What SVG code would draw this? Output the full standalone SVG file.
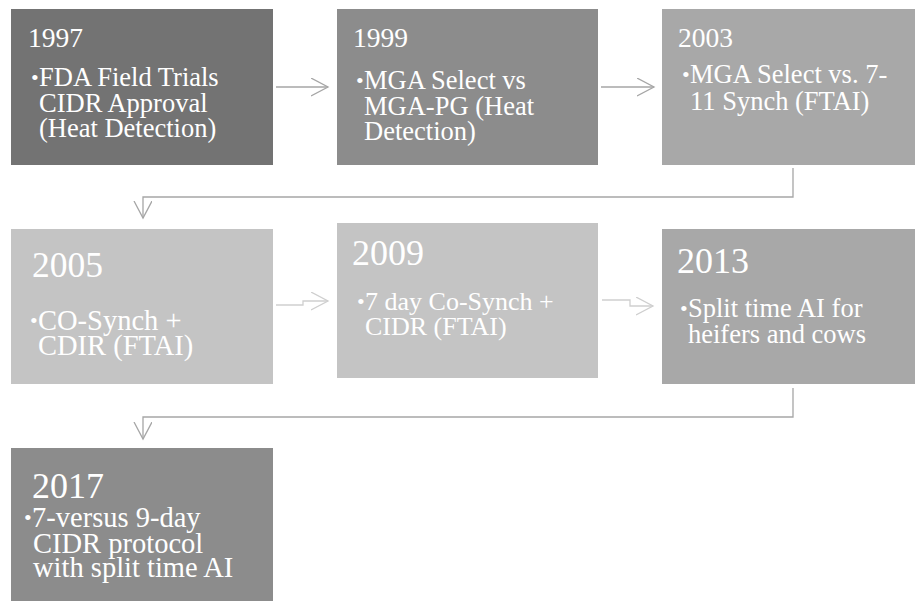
<svg xmlns="http://www.w3.org/2000/svg" width="915" height="601" viewBox="0 0 915 601">
<defs>
<style>
.t{font-family:"Liberation Serif","Times New Roman",serif;fill:#ffffff}
.b{font-family:"Liberation Serif","Times New Roman",serif;fill:#ffffff;font-size:22px}
.c{fill:none;stroke-width:1.3}
.d{stroke:#a6a6a6}
.l{stroke:#cfcfcf}
</style>
<marker id="ad" markerUnits="userSpaceOnUse" markerWidth="20" markerHeight="20" viewBox="0 0 20 20" refX="17" refY="9" orient="auto"><path d="M0,0 L17,9 L0,18" fill="none" stroke="#a6a6a6" stroke-width="1.3"/></marker>
<marker id="al" markerUnits="userSpaceOnUse" markerWidth="20" markerHeight="20" viewBox="0 0 20 20" refX="17" refY="9" orient="auto"><path d="M0,0 L17,9 L0,18" fill="none" stroke="#cfcfcf" stroke-width="1.3"/></marker>
</defs>
<rect width="915" height="601" fill="#ffffff"/>
<g id="connectors">
<path class="c d" d="M276 87 H328" marker-end="url(#ad)"/>
<path class="c d" d="M601 87 H654" marker-end="url(#ad)"/>
<path class="c d" d="M793 168 V197 H143 V218" marker-end="url(#ad)"/>
<path class="c l" d="M276 305 H303 V301 H328" marker-end="url(#al)"/>
<path class="c l" d="M602 300 H630 V306 H653" marker-end="url(#al)"/>
<path class="c d" d="M793 388 V417 H143 V439" marker-end="url(#ad)"/>
</g>
<g id="n1997">
<rect x="11" y="9" width="262" height="156" fill="#737373"/>
<text class="t" x="28" y="47" font-size="27.5">1997</text>
<text class="b" x="31" y="85">•</text>
<text class="t" font-size="26.5"><tspan x="39" y="86">FDA Field Trials</tspan><tspan x="39" y="112">CIDR Approval</tspan><tspan x="39" y="137">(Heat Detection)</tspan></text>
</g>
<g id="n1999">
<rect x="337" y="9" width="261" height="156" fill="#8c8c8c"/>
<text class="t" x="353" y="47" font-size="27.5">1999</text>
<text class="b" x="356" y="88">•</text>
<text class="t" font-size="26.5"><tspan x="364" y="89">MGA Select vs</tspan><tspan x="364" y="115">MGA-PG (Heat</tspan><tspan x="364" y="140">Detection)</tspan></text>
</g>
<g id="n2003">
<rect x="662" y="9" width="253" height="156" fill="#a8a8a8"/>
<text class="t" x="678" y="47" font-size="27.5">2003</text>
<text class="b" x="682" y="82">•</text>
<text class="t" font-size="26.5"><tspan x="690" y="83">MGA Select vs. 7-</tspan><tspan x="690" y="110">11 Synch (FTAI)</tspan></text>
</g>
<g id="n2005">
<rect x="11" y="229" width="262" height="155" fill="#c4c4c4"/>
<text class="t" x="32" y="277" font-size="35.5">2005</text>
<text class="b" x="30" y="328">•</text>
<text class="t" font-size="28.5"><tspan x="38" y="330">CO-Synch +</tspan><tspan x="38" y="355">CDIR (FTAI)</tspan></text>
</g>
<g id="n2009">
<rect x="337" y="223" width="261" height="155" fill="#c4c4c4"/>
<text class="t" x="352" y="265" font-size="36">2009</text>
<text class="b" x="357" y="309">•</text>
<text class="t" font-size="26"><tspan x="365" y="310">7 day Co-Synch +</tspan><tspan x="365" y="335">CIDR (FTAI)</tspan></text>
</g>
<g id="n2013">
<rect x="662" y="229" width="253" height="155" fill="#a8a8a8"/>
<text class="t" x="677" y="273" font-size="36">2013</text>
<text class="b" x="680" y="316">•</text>
<text class="t" font-size="26.5"><tspan x="688" y="317">Split time AI for</tspan><tspan x="688" y="343">heifers and cows</tspan></text>
</g>
<g id="n2017">
<rect x="11" y="448" width="262" height="160" fill="#8c8c8c"/>
<text class="t" x="32" y="498" font-size="36">2017</text>
<text class="b" x="24" y="525">•</text>
<text class="t" font-size="28.5"><tspan x="32" y="527">7-versus 9-day</tspan><tspan x="33" y="553">CIDR protocol</tspan><tspan x="33" y="577">with split time AI</tspan></text>
</g>
</svg>
